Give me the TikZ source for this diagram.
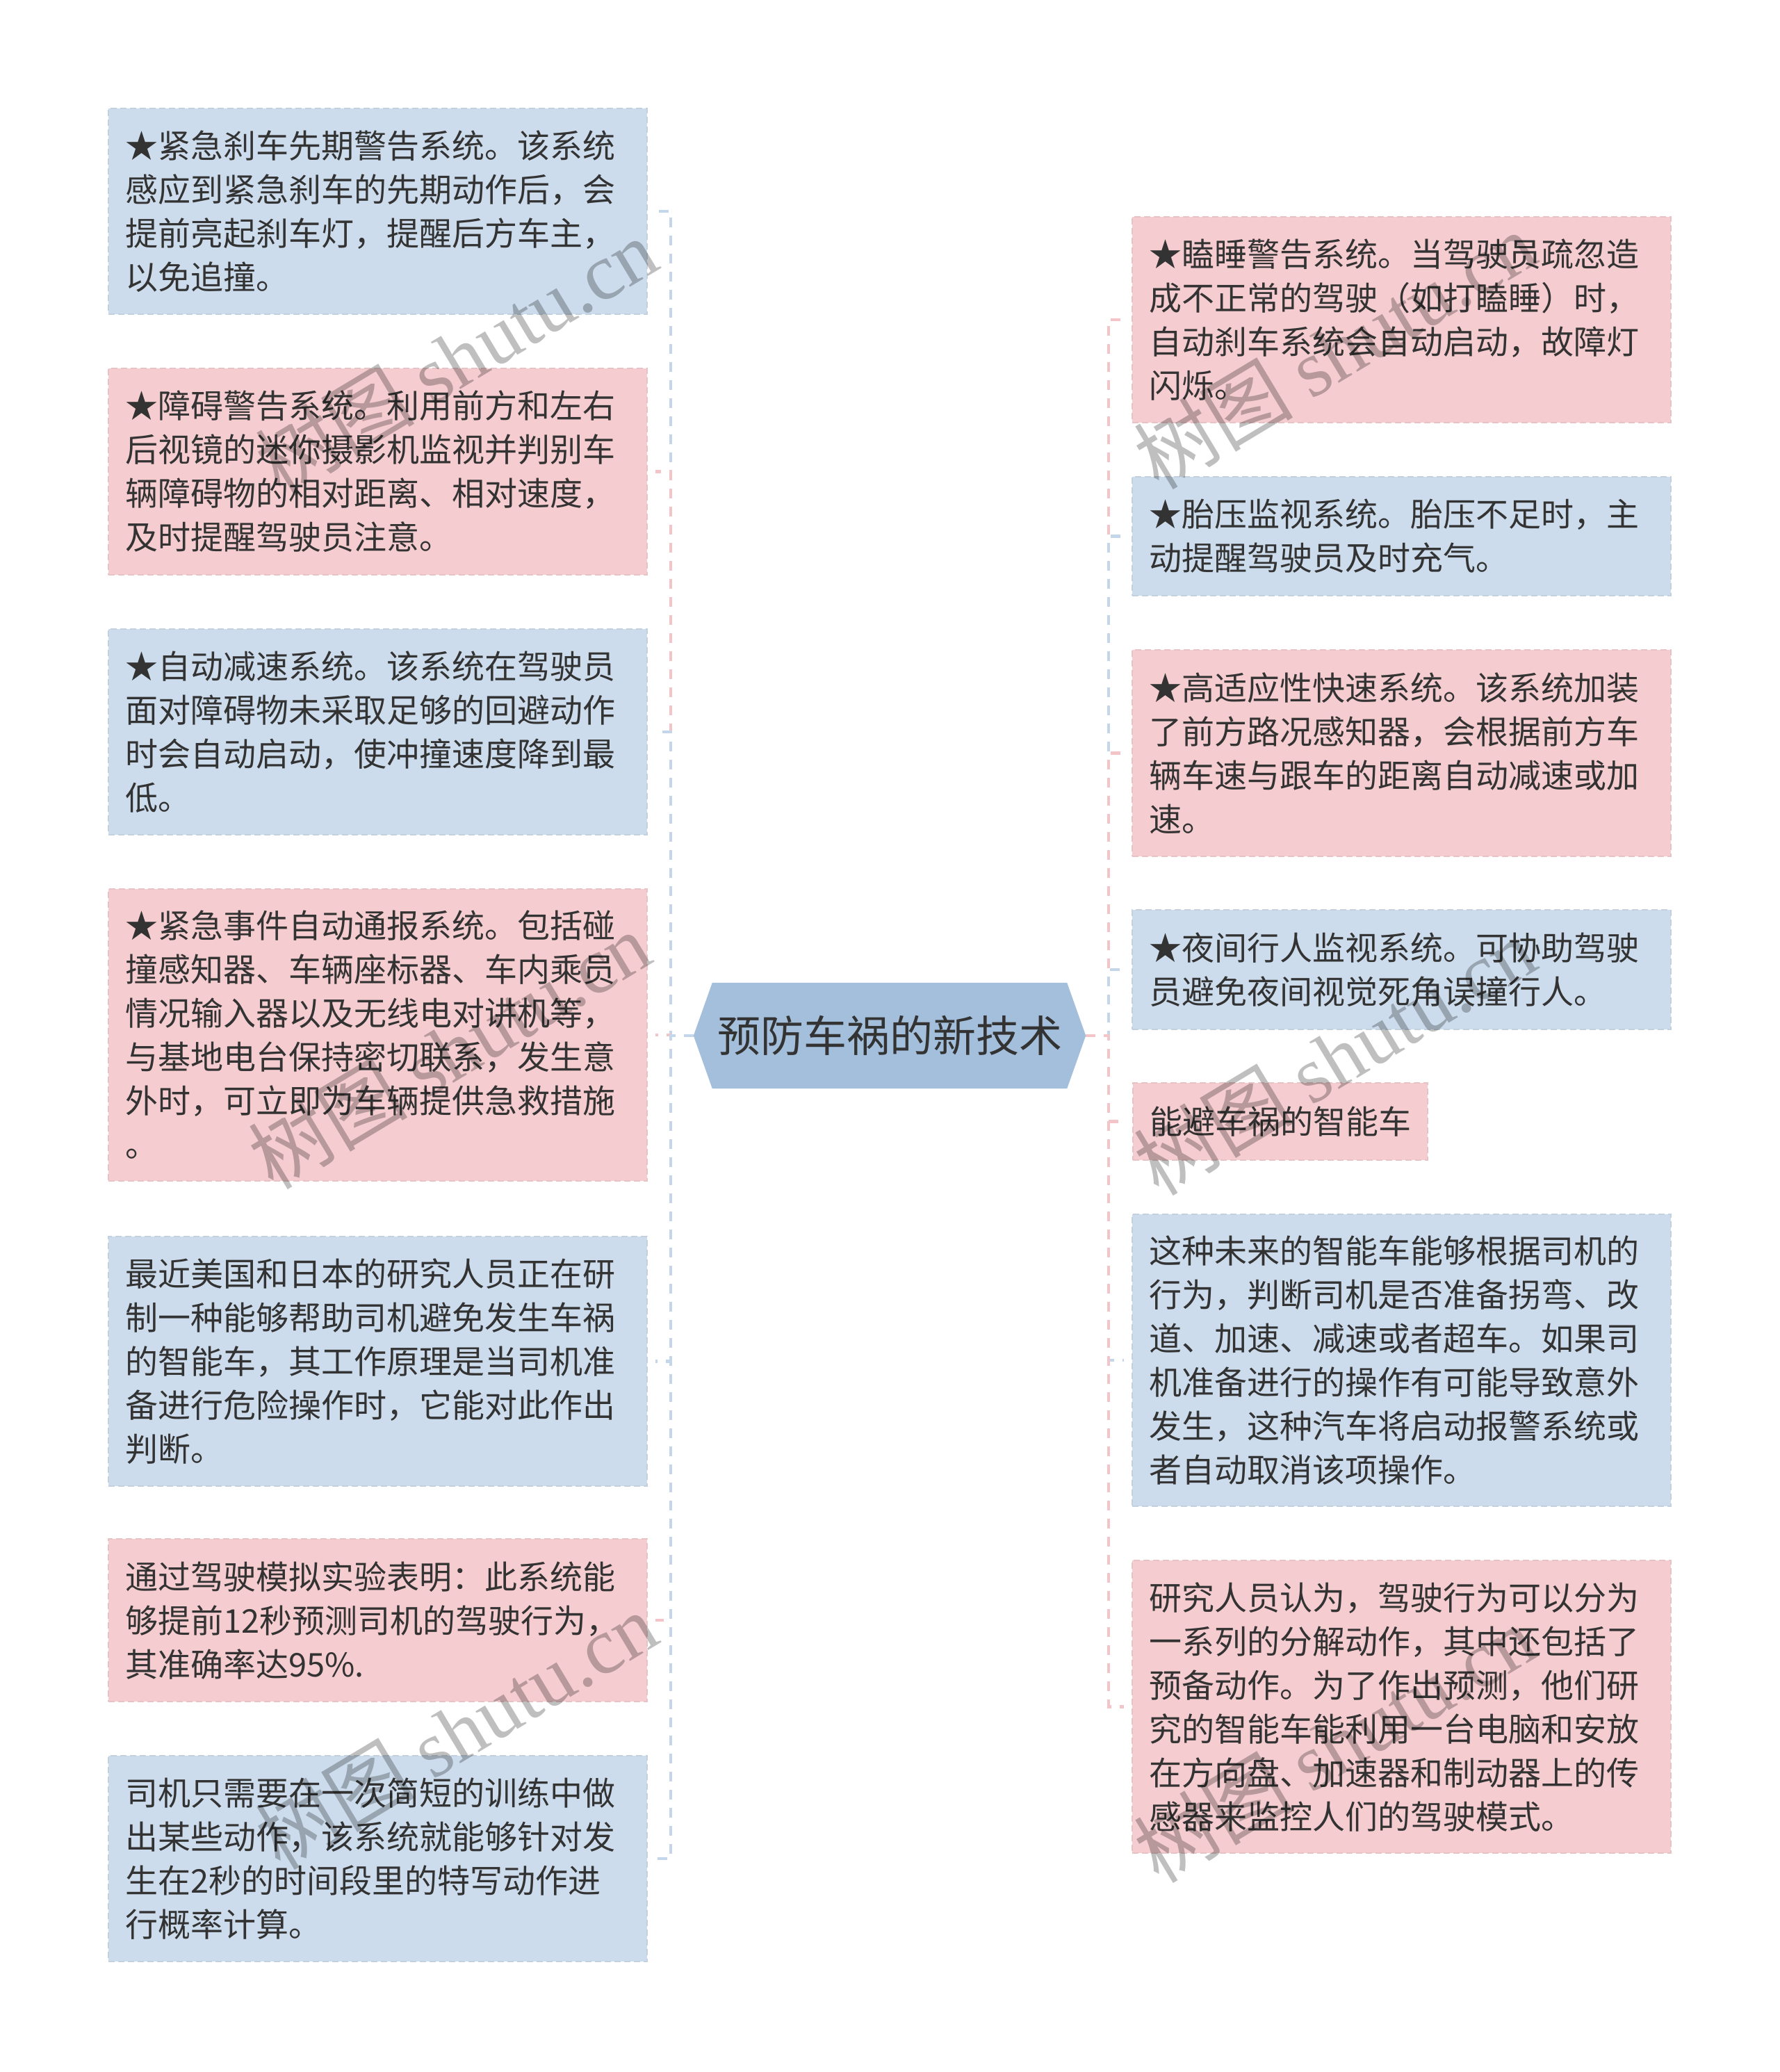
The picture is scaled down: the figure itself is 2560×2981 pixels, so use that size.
\documentclass[tikz,border=0pt]{standalone}
\usepackage{fontspec}
\setmainfont{Noto Sans CJK SC}
\newfontfamily\wmfont{Liberation Serif}
\usetikzlibrary{backgrounds}
\definecolor{boxblue}{HTML}{CCDCEC}
\definecolor{boxpink}{HTML}{F5CCCF}
\definecolor{rootblue}{HTML}{A3BFDB}
\definecolor{linkblue}{HTML}{C4D7EA}
\definecolor{linkpink}{HTML}{F3C4C8}
\definecolor{txtgray}{HTML}{333333}
\begin{document}
\begin{tikzpicture}[x=1pt, y=-1pt,
	box/.style={inner xsep=24pt, inner ysep=0pt, text=txtgray, align=left,
		font=\fontsize{47}{63}\selectfont, line width=2pt, dash pattern=on 9pt off 5pt},
	wide/.style={text width=727pt},
	bluebox/.style={box, fill=boxblue, draw=boxblue!88!gray, minimum height=#1},
	pinkbox/.style={box, fill=boxpink, draw=boxpink!88!gray, minimum height=#1},
	root/.style={text=txtgray, font=\fontsize{62}{70}\selectfont, inner sep=0pt,
		minimum width=510pt, minimum height=152pt},
	bluelink/.style={draw=linkblue, line width=4.5pt, dash pattern=on 14pt off 12pt, shorten >=11pt},
	pinklink/.style={draw=linkpink, line width=4.5pt, dash pattern=on 14pt off 12pt, shorten >=11pt},
	watermark/.style={text=black, opacity=0.25, rotate=31, font=\fontsize{115}{115}\selectfont}]
	\begin{scope}[on background layer]
		\fill[white] (0,0) rectangle (2560,2981);
	\end{scope}
	\useasboundingbox (0,0) rectangle (2560,2981);

	\node[root] (root) at (1280,1490) {预防车祸的新技术};
	\coordinate (tipL) at ([xshift=-27pt]root.west);
	\coordinate (tipR) at ([xshift=27pt]root.east);
	\coordinate (trunkL) at (965,0);
	\coordinate (trunkR) at (1595,0);

	\node[bluebox=296, wide] (l1) at (543.5,304) {★紧急刹车先期警告系统。该系统\\感应到紧急刹车的先期动作后，会\\提前亮起刹车灯，提醒后方车主，\\以免追撞。};
	\node[pinkbox=297, wide] (l2) at (543.5,678.5) {★障碍警告系统。利用前方和左右\\后视镜的迷你摄影机监视并判别车\\辆障碍物的相对距离、相对速度，\\及时提醒驾驶员注意。};
	\node[bluebox=296, wide] (l3) at (543.5,1053) {★自动减速系统。该系统在驾驶员\\面对障碍物未采取足够的回避动作\\时会自动启动，使冲撞速度降到最\\低。};
	\node[pinkbox=420, wide] (l4) at (543.5,1489) {★紧急事件自动通报系统。包括碰\\撞感知器、车辆座标器、车内乘员\\情况输入器以及无线电对讲机等，\\与基地电台保持密切联系，发生意\\外时，可立即为车辆提供急救措施\\。};
	\node[bluebox=359, wide] (l5) at (543.5,1958.5) {最近美国和日本的研究人员正在研\\制一种能够帮助司机避免发生车祸\\的智能车，其工作原理是当司机准\\备进行危险操作时，它能对此作出\\判断。};
	\node[pinkbox=234, wide] (l6) at (543.5,2331) {通过驾驶模拟实验表明：此系统能\\够提前12秒预测司机的驾驶行为，\\其准确率达95\%.};
	\node[bluebox=296, wide] (l7) at (543.5,2674) {司机只需要在一次简短的训练中做\\出某些动作，该系统就能够针对发\\生在2秒的时间段里的特写动作进\\行概率计算。};

	\node[pinkbox=296, wide] (r1) at (2016.5,460) {★瞌睡警告系统。当驾驶员疏忽造\\成不正常的驾驶（如打瞌睡）时，\\自动刹车系统会自动启动，故障灯\\闪烁。};
	\node[bluebox=171, wide] (r2) at (2016.5,771.5) {★胎压监视系统。胎压不足时，主\\动提醒驾驶员及时充气。};
	\node[pinkbox=297, wide] (r3) at (2016.5,1083.5) {★高适应性快速系统。该系统加装\\了前方路况感知器，会根据前方车\\辆车速与跟车的距离自动减速或加\\速。};
	\node[bluebox=172, wide] (r4) at (2016.5,1395) {★夜间行人监视系统。可协助驾驶\\员避免夜间视觉死角误撞行人。};
	\node[pinkbox=111, anchor=west] (r5) at (1629,1613.5) {能避车祸的智能车};
	\node[bluebox=420, wide] (r6) at (2016.5,1957) {这种未来的智能车能够根据司机的\\行为，判断司机是否准备拐弯、改\\道、加速、减速或者超车。如果司\\机准备进行的操作有可能导致意外\\发生，这种汽车将启动报警系统或\\者自动取消该项操作。};
	\node[pinkbox=421, wide] (r7) at (2016.5,2455.5) {研究人员认为，驾驶行为可以分为\\一系列的分解动作，其中还包括了\\预备动作。为了作出预测，他们研\\究的智能车能利用一台电脑和安放\\在方向盘、加速器和制动器上的传\\感器来监控人们的驾驶模式。};

	\begin{scope}[on background layer]
		\fill[rootblue] (root.north west) -- (root.north east) -- (tipR) -- (root.south east)
			-- (root.south west) -- (tipL) -- cycle;
		\foreach \n/\s in {l1/bluelink, l2/pinklink, l3/bluelink, l4/pinklink, l5/bluelink, l6/pinklink, l7/bluelink}
			\draw[\s] (tipL) -- (tipL -| trunkL) |- (\n.east);
		\foreach \n/\s in {r1/pinklink, r2/bluelink, r3/pinklink, r4/bluelink, r5/pinklink, r6/bluelink, r7/pinklink}
			\draw[\s] (tipR) -- (tipR -| trunkR) |- (\n.west);
	\end{scope}

	\node[watermark] (wm1) at (656,513) {树图 {\wmfont shutu.cn}};
	\node[watermark] (wm2) at (646,1511) {树图 {\wmfont shutu.cn}};
	\node[watermark] (wm3) at (656,2490) {树图 {\wmfont shutu.cn}};
	\node[watermark] (wm4) at (1920,504) {树图 {\wmfont shutu.cn}};
	\node[watermark] (wm5) at (1920,1520) {树图 {\wmfont shutu.cn}};
	\node[watermark] (wm6) at (1920,2509) {树图 {\wmfont shutu.cn}};
\end{tikzpicture}
\end{document}
